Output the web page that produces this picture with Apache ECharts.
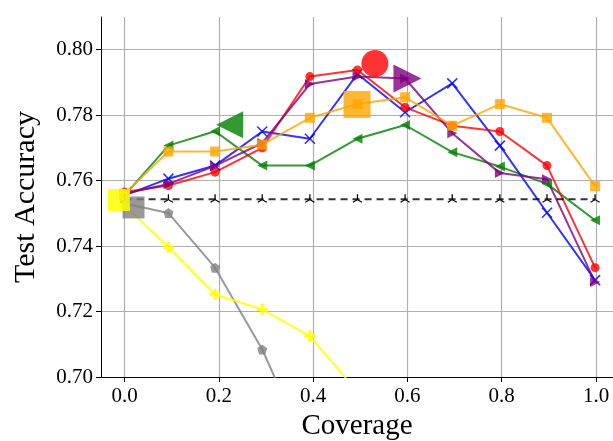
<!DOCTYPE html>
<html>
<head>
<meta charset="utf-8">
<script src="https://cdn.jsdelivr.net/npm/echarts@6/dist/echarts.min.js"></script>
<style>
html,body{margin:0;padding:0;background:#fff;}
#chart{width:613px;height:441px;}
</style>
</head>
<body>
<div id="chart"></div>
<script>
// ---- data ----
const coverage = [0.0, 0.093, 0.192, 0.292, 0.393, 0.494, 0.595, 0.695, 0.796, 0.896, 0.998];
const redVals    = [0.7565, 0.7585, 0.7626, 0.7700, 0.7918, 0.7938, 0.7824, 0.7768, 0.7750, 0.7646, 0.7334];
const purpleVals = [0.7560, 0.7590, 0.7645, 0.7715, 0.7895, 0.7918, 0.7912, 0.7745, 0.7623, 0.7604, 0.7290];
const blueVals   = [0.7555, 0.7606, 0.7646, 0.7750, 0.7728, 0.7926, 0.7809, 0.7897, 0.7707, 0.7502, 0.7296];
const orangeVals = [0.7560, 0.7689, 0.7689, 0.7710, 0.7792, 0.7834, 0.7855, 0.7768, 0.7834, 0.7792, 0.7583];
const greenVals  = [0.7555, 0.7707, 0.7751, 0.7646, 0.7646, 0.7728, 0.7770, 0.7687, 0.7643, 0.7590, 0.7479];
const grayVals   = [0.7530, 0.7501, 0.7334, 0.7084, 0.6760];
const yellowVals = [0.7524, 0.7397, 0.7252, 0.7207, 0.7125, 0.6955];
const baselineVals = [0.7543, 0.7543, 0.7543, 0.7543, 0.7543, 0.7543, 0.7543, 0.7543, 0.7543, 0.7543, 0.7543];
// highlighted (large) points: [coverage, accuracy]
const bigRed    = [0.531, 0.7958];
const bigOrange = [0.493, 0.7833];
const bigPurple = [0.600, 0.7912];
const bigGreen  = [0.223, 0.7771];
const bigGray   = [0.019, 0.7518];
const bigYellow = [-0.012, 0.7541];
const xTicks = [0.0, 0.2, 0.4, 0.6, 0.8, 1.0];
const yTicks = [0.70, 0.72, 0.74, 0.76, 0.78, 0.80];

const FONT = '"Liberation Serif", "DejaVu Serif", serif';
const pair = (xs, ys) => ys.map((v, i) => [xs[i], v]);

const P_PENT = 'path://M0,-1 L0.951,-0.309 L0.588,0.809 L-0.588,0.809 L-0.951,-0.309 Z';
const P_PLUS = 'path://M-1,-0.33 L-0.33,-0.33 L-0.33,-1 L0.33,-1 L0.33,-0.33 L1,-0.33 L1,0.33 L0.33,0.33 L0.33,1 L-0.33,1 L-0.33,0.33 L-1,0.33 Z';
const P_X = 'path://M0,0 L10,10 M10,0 L0,10';
const P_TRI = 'path://M5,5 L5,0 M5,5 L0.67,7.5 M5,5 L9.33,7.5';

function lineSeries(name, ys, color, symbol, size, extra) {
  const s = {
    name, type: 'line', data: pair(coverage, ys), clip: true,
    symbol, symbolSize: size, showSymbol: true,
    lineStyle: { color, width: 2 },
    itemStyle: { color },
    emphasis: { disabled: true },
    z: 2
  };
  return Object.assign(s, extra || {});
}
function bigSeries(pt, color, symbol, rot, size) {
  return {
    type: 'scatter', data: [pt], symbol, symbolRotate: rot || 0,
    symbolSize: size || 27, itemStyle: { color, opacity: 1 }, z: 5,
    emphasis: { disabled: true }
  };
}

const red = 'rgba(255,0,0,0.8)';
const purple = 'rgba(128,0,128,0.8)';
const blue = 'rgba(0,0,255,0.8)';
const orange = 'rgba(255,165,0,0.8)';
const green = 'rgba(0,128,0,0.8)';
const gray = 'rgba(128,128,128,0.8)';
const yellow = 'rgba(255,255,0,0.85)';

const chart = echarts.init(document.getElementById('chart'), null, { renderer: 'canvas' });
chart.setOption({
  animation: false,
  backgroundColor: '#fff',
  grid: { left: 101, right: 0, top: 17, bottom: 64, containLabel: false, outerBoundsMode: 'none' },
  xAxis: {
    type: 'value', min: -0.05, max: 1.036,
    name: 'Coverage', nameLocation: 'middle', nameGap: 35,
    nameTextStyle: { fontFamily: FONT, fontSize: 29, color: '#000' },
    axisLine: { show: true, onZero: false, lineStyle: { color: '#000', width: 1 } },
    axisTick: { show: true, customValues: xTicks, length: 5, lineStyle: { color: '#000', width: 1 } },
    axisLabel: { customValues: xTicks, fontFamily: FONT, fontSize: 21, color: '#000', margin: 9,
      formatter: v => v.toFixed(1) },
    splitLine: { show: true, lineStyle: { color: '#b0b0b0', width: 1.2 } }
  },
  yAxis: {
    type: 'value', min: 0.70, max: 0.81,
    name: 'Test Accuracy', nameLocation: 'middle', nameGap: 60,
    nameTextStyle: { fontFamily: FONT, fontSize: 30, color: '#000' },
    axisLine: { show: true, onZero: false, lineStyle: { color: '#000', width: 1 } },
    axisTick: { show: true, customValues: yTicks, length: 5, lineStyle: { color: '#000', width: 1 } },
    axisLabel: { customValues: yTicks, fontFamily: FONT, fontSize: 21, color: '#000', margin: 8,
      formatter: v => v.toFixed(2) },
    splitLine: { show: true, lineStyle: { color: '#b0b0b0', width: 1.2 } }
  },
  series: [
    lineSeries('gray', grayVals, gray, P_PENT, 10),
    lineSeries('yellow', yellowVals, yellow, P_PLUS, 11),
    lineSeries('green', greenVals, green, 'triangle', 10, { symbolRotate: 90 }),
    lineSeries('blue', blueVals, blue, P_X, 10, { itemStyle: { color: 'none', borderColor: blue, borderWidth: 1.6 } }),
    lineSeries('red', redVals, red, 'circle', 9),
    lineSeries('purple', purpleVals, purple, 'triangle', 10, { symbolRotate: -90 }),
    lineSeries('orange', orangeVals, orange, 'rect', 10),
    lineSeries('baseline', baselineVals, '#000', P_TRI, [9, 8], {
      lineStyle: { color: 'rgba(0,0,0,0.8)', width: 2, type: [7, 5] },
      itemStyle: { color: 'none', borderColor: '#000', borderWidth: 1.2 }, symbolOffset: [0, -1]
    }),
    bigSeries(bigRed, red, 'circle', 0, 27),
    bigSeries(bigOrange, orange, 'rect', 0, 27),
    bigSeries(bigPurple, purple, 'triangle', -90, 28),
    bigSeries(bigGreen, green, 'triangle', 90, 27),
    bigSeries(bigGray, gray, 'rect', 0, 22),
    bigSeries(bigYellow, yellow, 'rect', 0, 22)
  ]
});
</script>
</body>
</html>
